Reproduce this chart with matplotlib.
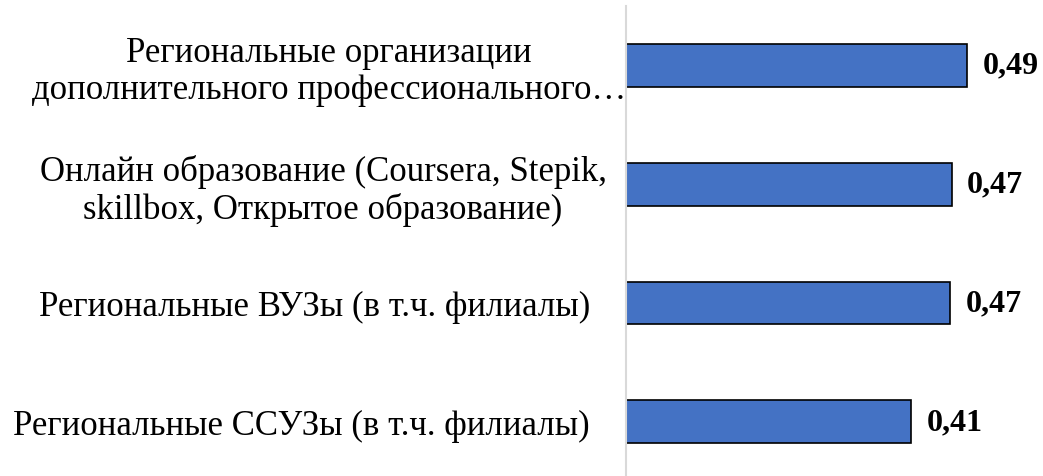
import matplotlib
matplotlib.use("Agg")
import matplotlib.pyplot as plt

# categories, top to bottom
categories = [
    "Региональные организации\nдополнительного профессионального…",
    "Онлайн образование (Coursera, Stepik,\nskillbox, Открытое образование)",
    "Региональные ВУЗы (в т.ч. филиалы)",
    "Региональные ССУЗы (в т.ч. филиалы)",
]
values = [0.49, 0.468, 0.466, 0.41]

plt.rcParams['font.family'] = ['Liberation Serif', 'DejaVu Serif']

fig = plt.figure(figsize=(10.43, 4.77), dpi=100)
ax = fig.add_axes([0.6002, -0.0105, 0.3998, 0.9958])

pos = list(range(len(categories)))
bars = ax.barh(pos, values, height=0.36, color='#4472C4',
               edgecolor='black', linewidth=1.2)

ax.set_ylim(len(categories) - 0.5, -0.5)
ax.set_xlim(0, 0.3998 * 1043 / 696)

for b, v in zip(bars, values):
    ax.annotate(f"{v:.2f}".replace('.', ','),
                (b.get_width(), b.get_y() + b.get_height() / 2),
                xytext=(11, 0), textcoords='offset points',
                va='center', ha='left', fontsize=23, fontweight='bold')

ax.set_yticks(pos)
ax.set_yticklabels(categories, fontsize=25, multialignment='center',
                   linespacing=1.15)
ax.tick_params(axis='y', length=0)
# per-label gap to the axis, as in the original layout
gaps = [0, 14, 26, 26]
for t, g in zip(ax.yaxis.get_major_ticks(), gaps):
    t.set_pad(g)
ax.set_xticks([])

for s in ['top', 'right', 'bottom']:
    ax.spines[s].set_visible(False)
ax.spines['left'].set_color('#D9D9D9')
ax.spines['left'].set_linewidth(1.5)

fig.savefig("out.png", dpi=100)
